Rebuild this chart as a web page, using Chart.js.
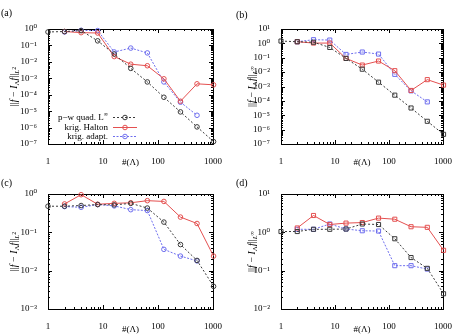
<!DOCTYPE html>
<html>
<head>
<meta charset="utf-8">
<script src="https://cdn.jsdelivr.net/npm/chart.js@4"></script>
<style>
body { margin: 0; background: #fff; }
.pnl { position: absolute; }
</style>
</head>
<body>
<div class="pnl" style="left:0;top:0"><canvas id="ca" width="228" height="168"></canvas></div>
<div class="pnl" style="left:228px;top:0"><canvas id="cb" width="228" height="168"></canvas></div>
<div class="pnl" style="left:0;top:168px"><canvas id="cc" width="228" height="167"></canvas></div>
<div class="pnl" style="left:228px;top:168px"><canvas id="cd" width="228" height="167"></canvas></div>
<script>
// number of points #(Lambda)
var nPts = [1, 2, 4, 8, 16, 32, 64, 128, 256, 512, 1024];

// (a) L2 error
var a_pw     = [0.66, 0.7, 0.8, 0.19, 0.03, 0.004, 6e-4, 7e-5, 9e-6, 1.1e-6, 1.4e-7];
var a_halton = [null, 0.7, 0.6, 0.57, 0.021, 0.0072, 0.0058, 9.3e-4, 4e-5, 4.6e-4, 4e-4];
var a_adapt  = [null, 0.66, 0.83, 0.8, 0.04, 0.069, 0.035, 6e-4, 3.5e-5, 5.6e-6, null];

// (b) Linf error
var b_pw     = [1.45, 1.3, 1.2, 0.52, 0.09, 0.016, 0.002, 2.5e-4, 3.2e-5, 3.8e-6, 4.7e-7];
var b_halton = [null, 1.3, 1.05, 1.05, 0.09, 0.031, 0.059, 0.0126, 5.3e-4, 0.003, 1.25e-3];
var b_adapt  = [null, 1.3, 1.8, 1.7, 0.17, 0.25, 0.18, 0.007, 5e-4, 8.5e-5, null];

// (c) L2 error
var c_pw     = [0.48, 0.48, 0.5, 0.53, 0.52, 0.57, 0.43, 0.185, 0.048, 0.0185, 0.0039];
var c_halton = [null, 0.55, 0.96, 0.54, 0.57, 0.59, 0.67, 0.64, 0.25, 0.17, 0.024];
var c_adapt  = [null, 0.47, 0.45, 0.53, 0.49, 0.39, 0.37, 0.036, 0.024, 0.018, null];

// (d) Linf error
var d_pw     = [1.05, 1.05, 1.2, 1.2, 1.22, 1.65, 1.6, 0.68, 0.22, 0.115, 0.025];
var d_halton = [null, 1.3, 2.75, 1.6, 1.74, 1.8, 2.35, 2.2, 1.4, 1.35, 0.34];
var d_adapt  = [null, 1.2, 1.2, 1.65, 1.22, 1.1, 1.08, 0.135, 0.135, 0.11, null];

var seriesNames = ['p\u2212w quad. L', 'krig. Halton', 'krig. adapt.'];
var xTicks = [1, 10, 100, 1000];

var FONT = '"Liberation Serif", "DejaVu Serif", serif';
var colBlack = '#3a3a3a';
var colRed = 'rgb(228,80,80)';
var colBlue = 'rgb(110,110,238)';
var sup = {'0':'\u2070','1':'\u00b9','2':'\u00b2','3':'\u00b3','4':'\u2074','5':'\u2075','6':'\u2076','7':'\u2077','8':'\u2078','9':'\u2079','-':'\u207b'};

function pts(arr) {
    var out = [];
    for (var i in arr) {
        if (arr[i] !== null) out.push({x: nPts[i], y: arr[i]});
    }
    return out;
}

function isPow10(v) {
    var l = Math.log10(v);
    return Math.abs(l - Math.round(l)) < 1e-9;
}

// box + inward ticks on all four sides (gnuplot look)
var framePlugin = {
    id: 'frame',
    beforeDatasetsDraw: function (chart) {
        var c = chart.ctx, a = chart.chartArea;
        c.save();
        c.strokeStyle = '#000';
        c.lineWidth = 1;
        c.strokeRect(Math.round(a.left) + 0.5, Math.round(a.top) + 0.5, Math.round(a.right - a.left), Math.round(a.bottom - a.top));
        c.beginPath();
        chart.scales.x.ticks.forEach(function (t) {
            var px = Math.round(chart.scales.x.getPixelForValue(t.value)) + 0.5;
            var len = isPow10(t.value) ? 4 : 2;
            c.moveTo(px, a.bottom); c.lineTo(px, a.bottom - len);
            c.moveTo(px, a.top); c.lineTo(px, a.top + len);
        });
        chart.scales.y.ticks.forEach(function (t) {
            var py = Math.round(chart.scales.y.getPixelForValue(t.value)) + 0.5;
            var len = isPow10(t.value) ? 4 : 2;
            c.moveTo(a.left, py); c.lineTo(a.left + len, py);
            c.moveTo(a.right, py); c.lineTo(a.right - len, py);
        });
        c.stroke();
        c.restore();
    }
};

// panel letter, y title with sub/superscripts, optional legend
var textPlugin = {
    id: 'texts',
    afterDraw: function (chart) {
        var o = chart.options.plugins.texts;
        var c = chart.ctx, a = chart.chartArea;
        c.save();
        c.fillStyle = '#000';
        c.textBaseline = 'alphabetic';
        c.font = '10px ' + FONT;
        c.textAlign = 'left';
        c.fillText(o.letter, o.letterX, o.letterY);

        // y-axis title
        var segs = [
            {t: '||', s: 10, d: 0}, {t: 'f', s: 10, d: 0, it: 1}, {t: ' \u2212 ', s: 10, d: 0},
            {t: 'I', s: 10, d: 0, it: 1}, {t: '\u039b', s: 7, d: 2}, {t: 'f', s: 10, d: 0, it: 1},
            {t: '||', s: 10, d: 0}, {t: 'L', s: 7, d: 2, it: 1}, {t: o.norm, s: 6, d: -1.5}
        ];
        var w = 0;
        segs.forEach(function (g) {
            c.font = (g.it ? 'italic ' : '') + g.s + 'px ' + FONT;
            g.w = c.measureText(g.t).width;
            w += g.w;
        });
        c.translate(o.titleX, (a.top + a.bottom) / 2);
        c.rotate(-Math.PI / 2);
        var x = -w / 2;
        segs.forEach(function (g) {
            c.font = (g.it ? 'italic ' : '') + g.s + 'px ' + FONT;
            c.fillText(g.t, x, 3 + g.d);
            x += g.w;
        });
        c.setTransform(1, 0, 0, 1, 0, 0);

        if (o.legend) {
            var rows = [117, 127, 136];
            var ds = chart.data.datasets;
            for (var i = 0; i < 3; i++) {
                var y = rows[i];
                c.font = '9px ' + FONT;
                c.textAlign = 'right';
                if (i === 0) {
                    c.font = '6px ' + FONT;
                    var sw = c.measureText('\u221e').width;
                    c.textAlign = 'left';
                    c.fillText('\u221e', 108 - sw, y - 1);
                    c.font = '9px ' + FONT;
                    c.textAlign = 'right';
                    c.fillText(seriesNames[i], 108 - sw, y + 3);
                } else {
                    c.fillText(seriesNames[i], 108, y + 3);
                }
                c.strokeStyle = ds[i].borderColor;
                c.lineWidth = 1;
                c.setLineDash(ds[i].borderDash || []);
                c.beginPath();
                c.moveTo(113, y + 0.5); c.lineTo(137, y + 0.5);
                c.stroke();
                c.setLineDash([]);
                c.beginPath();
                c.arc(125, y + 0.5, 2.3, 0, Math.PI * 2);
                c.stroke();
            }
        }
        c.restore();
    }
};

function makeChart(id, cfg) {
    var ctx = document.getElementById(id);
    var h = ctx.height;
    return new Chart(ctx, {
        type: 'scatter',
        data: {
            datasets: [
                {label: seriesNames[0], data: pts(cfg.pw), borderColor: colBlack, borderDash: [2, 2]},
                {label: seriesNames[1], data: pts(cfg.halton), borderColor: colRed},
                {label: seriesNames[2], data: pts(cfg.adapt), borderColor: colBlue, borderDash: [2, 1.5]}
            ].map(function (d) {
                d.showLine = true;
                d.borderWidth = 1;
                d.backgroundColor = 'rgba(0,0,0,0)';
                d.pointBackgroundColor = 'rgba(0,0,0,0)';
                d.pointBorderColor = d.borderColor;
                d.pointBorderWidth = 1;
                d.pointStyle = cfg.marker;
                d.pointRadius = cfg.marker === 'rect' ? 2.9 : 2.3;
                d.clip = 8;
                return d;
            })
        },
        options: {
            responsive: false,
            animation: false,
            devicePixelRatio: 1,
            layout: {padding: {left: 0, right: 228 - cfg.right, top: cfg.top, bottom: 0}},
            plugins: {
                legend: {display: false},
                tooltip: {enabled: false},
                texts: {letter: cfg.letter, letterX: cfg.letterX, letterY: cfg.letterY, titleX: cfg.titleX, norm: cfg.norm, legend: cfg.legend}
            },
            scales: {
                x: {
                    type: 'logarithmic',
                    min: 1, max: 1000,
                    grid: {display: false},
                    border: {display: false},
                    afterFit: function (s) { s.height = h - cfg.bottom; },
                    ticks: {
                        autoSkip: false, maxRotation: 0, padding: 4, color: '#000',
                        font: {family: FONT, size: 9},
                        callback: function (v) { return xTicks.indexOf(v) >= 0 ? String(v) : ''; }
                    },
                    title: {display: true, text: '#(\u039b)', color: '#000', font: {family: FONT, size: 9}, padding: {top: 0, bottom: 0}}
                },
                y: {
                    type: 'logarithmic',
                    min: cfg.ymin, max: cfg.ymax,
                    grid: {display: false},
                    border: {display: false},
                    afterFit: function (s) { s.width = cfg.left; },
                    ticks: {
                        autoSkip: false, padding: 3, color: '#000',
                        font: {family: FONT, size: 9},
                        callback: function (v) {
                            if (!isPow10(v)) return '';
                            var e = String(Math.round(Math.log10(v)));
                            return '10' + e.split('').map(function (ch) { return sup[ch]; }).join('');
                        }
                    }
                }
            }
        },
        plugins: [framePlugin, textPlugin]
    });
}

makeChart('ca', {pw: a_pw, halton: a_halton, adapt: a_adapt, marker: 'circle', ymin: 1e-7, ymax: 1,
    left: 48, right: 213, top: 29, bottom: 144, letter: '(a)', letterX: 1, letterY: 16, titleX: 14, norm: '2', legend: true});
makeChart('cb', {pw: b_pw, halton: b_halton, adapt: b_adapt, marker: 'rect', ymin: 1e-7, ymax: 10,
    left: 53, right: 218, top: 29, bottom: 144, letter: '(b)', letterX: 8, letterY: 18, titleX: 24, norm: '\u221e', legend: false});
makeChart('cc', {pw: c_pw, halton: c_halton, adapt: c_adapt, marker: 'circle', ymin: 1e-3, ymax: 1,
    left: 48, right: 213, top: 26, bottom: 141, letter: '(c)', letterX: 1, letterY: 18, titleX: 14, norm: '2', legend: false});
makeChart('cd', {pw: d_pw, halton: d_halton, adapt: d_adapt, marker: 'rect', ymin: 1e-2, ymax: 10,
    left: 53, right: 218, top: 26, bottom: 141, letter: '(d)', letterX: 8, letterY: 18, titleX: 24, norm: '\u221e', legend: false});
</script>
</body>
</html>
